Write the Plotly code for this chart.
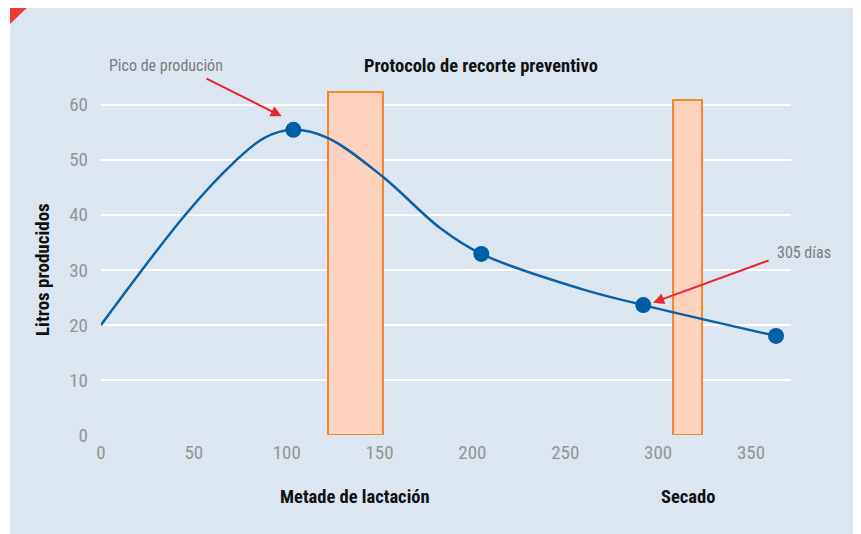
import plotly.graph_objects as go

# ---- data ----
curve_days = [0, 46.1, 71.2, 88, 103.6, 122, 151.6, 182.6, 204.8, 258, 292, 363.5]
curve_litros = [20, 40.3, 49.4, 54.0, 55.45, 54.0, 46.96, 37.6, 32.9, 26.6, 23.6, 18.0]
point_days = [103.6, 204.8, 292, 363.5]
point_litros = [55.45, 32.9, 23.6, 18.0]
band_start = [122.2, 308.0]
band_end = [151.6, 323.4]
band_top = [62.3, 60.9]
x_ticks = [0, 50, 100, 150, 200, 250, 300, 350]
y_ticks = [0, 10, 20, 30, 40, 50, 60]

# page body has an 8px margin; figure drawn from (8, 8)
OFF = 8
W, H = 861 - OFF, 534 - OFF
L, R, T, B = 101 - OFF, 70, 91 - OFF, 99
PW, PH = W - L - R, H - T - B


def px(x):  # reference-image x -> paper
    return (x - 101) / PW


def py(y):  # reference-image y -> paper
    return (435 - y) / PH


NARROW = "Liberation Sans Narrow, Roboto Condensed, DejaVu Sans Condensed, Arial Narrow, sans-serif"
PANEL = "#dce6f0"
GRAY = "#959595"
RED = "#e8262a"

fig = go.Figure()

fig.add_trace(go.Bar(
    x=[(s + e) / 2 for s, e in zip(band_start, band_end)],
    y=band_top,
    width=[e - s for s, e in zip(band_start, band_end)],
    marker=dict(color="#fdd3c0", line=dict(color="#f5872a", width=2)),
    hoverinfo="skip",
    showlegend=False,
))

fig.add_trace(go.Scatter(
    x=curve_days, y=curve_litros, mode="lines",
    line=dict(color="#0a61a5", width=2.5, shape="spline", smoothing=1.0),
    showlegend=False, hoverinfo="skip",
))

fig.add_trace(go.Scatter(
    x=point_days, y=point_litros, mode="markers",
    marker=dict(color="#005ea6", size=16),
    showlegend=False, cliponaxis=False,
))

shapes = [
    dict(type="rect", xref="paper", yref="paper", x0=px(10), x1=px(875), y0=py(545), y1=py(4),
         fillcolor=PANEL, line=dict(width=0), layer="below"),
    dict(type="path", xref="paper", yref="paper",
         path=f"M {px(10)} {py(4)} L {px(31)} {py(4)} L {px(10)} {py(24)} Z",
         fillcolor="#ee3a34", line=dict(width=0), layer="above"),
]


def label(text, x, y, size, color, bold=False, angle=0):
    f = dict(family=NARROW, size=size, color=color)
    if bold:
        f["weight"] = "bold"
    return dict(text=text, xref="paper", yref="paper", x=px(x), y=py(y), textangle=angle,
                xanchor="center", yanchor="middle", showarrow=False, font=f)


annotations = [
    label("Protocolo de recorte preventivo", 481, 66, 18.5, "#111111", True),
    label("Litros producidos", 42, 270, 19, "#111111", True, -90),
    label("Metade de lactación", 355, 497, 18.5, "#111111", True),
    label("Secado", 688, 497, 18.5, "#111111", True),
    label("Pico de produción", 165.5, 65, 16, "#7d7d7d"),
    label("305 días", 804, 253, 16, "#7d7d7d"),
    dict(text="", x=97.3, y=57.9, xref="x", yref="y", ax=-76.7, ay=-38.4,
         showarrow=True, arrowhead=2, arrowsize=1.1, arrowwidth=2, arrowcolor=RED),
    dict(text="", x=297.3, y=24.05, xref="x", yref="y", ax=117, ay=-42.7,
         showarrow=True, arrowhead=2, arrowsize=1.1, arrowwidth=2, arrowcolor=RED),
]

fig.update_layout(
    width=W, height=H,
    margin=dict(l=L, r=R, t=T, b=B, pad=0),
    paper_bgcolor="white",
    plot_bgcolor="rgba(0,0,0,0)",
    shapes=shapes,
    annotations=annotations,
    bargap=0,
    xaxis=dict(range=[0, PW / 1.857], tickvals=x_ticks, ticktext=[str(v) for v in x_ticks],
               showgrid=False, zeroline=False, showline=False, ticks="",
               tickfont=dict(family=NARROW, size=19, color=GRAY), ticklabelstandoff=4),
    yaxis=dict(range=[0, 62.5], tickvals=y_ticks, ticktext=[str(v) for v in y_ticks],
               showgrid=True, gridcolor="white", gridwidth=1.5, zeroline=False, showline=False, ticks="",
               tickfont=dict(family=NARROW, size=19, color=GRAY), ticklabelstandoff=12),
)

fig.write_html("out.html")
